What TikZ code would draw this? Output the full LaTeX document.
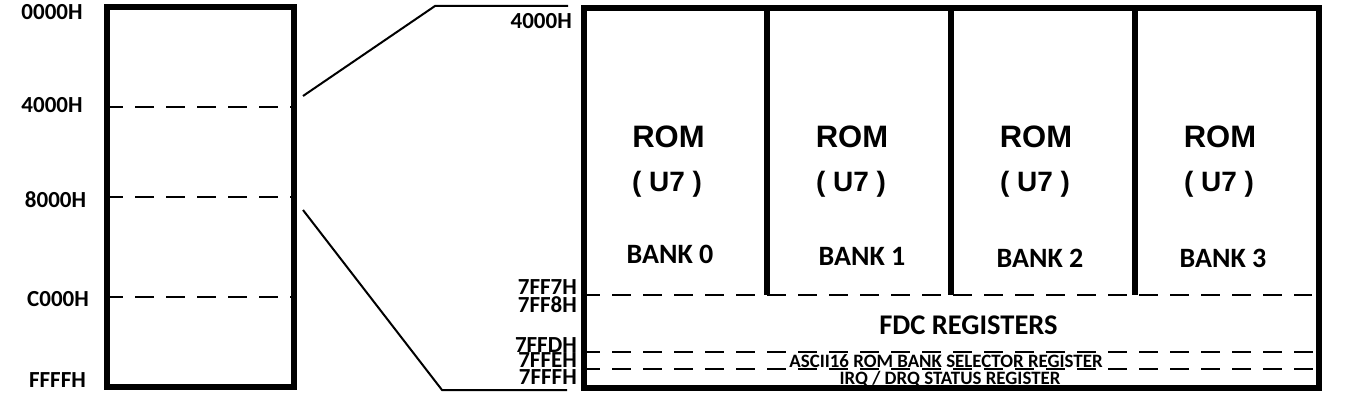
\documentclass[tikz,border=0pt]{standalone}
\usepackage{fontspec}
\setmainfont{Carlito}
\newfontfamily\romfont{Liberation Sans}
\usetikzlibrary{positioning,calc}

\begin{document}
\begin{tikzpicture}[
  x=1pt,y=-1pt,
  frame/.style={draw,line width=5.5pt,inner sep=0pt},
  divider/.style={line width=5.5pt},
  split/.style={dash pattern=on 19pt off 12pt,line width=2pt},
  zoomline/.style={line width=2pt},
  addr/.style={anchor=base,inner sep=0pt,font=\fontsize{23}{23}\selectfont\bfseries},
  raddr/.style={addr,anchor=base east},
  romtext/.style={anchor=base,inner sep=0pt,font=\fontsize{31}{31}\romfont\bfseries},
  chiptext/.style={anchor=base,inner sep=0pt,font=\fontsize{28}{28}\romfont\bfseries},
  banktext/.style={anchor=base,inner sep=0pt,font=\fontsize{28}{28}\selectfont\bfseries},
  regtext/.style={anchor=base,inner sep=0pt,font=\fontsize{18.9}{18.9}\selectfont\bfseries}
]
\useasboundingbox (0,0) rectangle (1350,404);

% full 64K map
\node[frame,minimum width=187,minimum height=380] (map) at (200.5,197) {};
\node[addr] (m0000) at (52,20) {0000H};
\node[addr] (m4000) at (52,113) {4000H};
\node[addr] (m8000) at (55.5,207) {8000H};
\node[addr] (mc000) at (58,306) {C000H};
\node[addr] (mffff) at (57.5,387) {FFFFH};
\draw[split] (map.west |- 0,107) -- (map.east |- 0,107);
\draw[split] (map.west |- 0,197) -- (map.east |- 0,197);
\draw[split] (map.west |- 0,297) -- (map.east |- 0,297);

% page 1 detail
\node[frame,minimum width=735,minimum height=380] (rom) at (951.5,198) {};
\draw[divider] (767,0 |- rom.north) -- (767,295);
\draw[divider] (951,0 |- rom.north) -- (951,295);
\draw[divider] (1135,0 |- rom.north) -- (1135,295);
\draw[split] (rom.west |- 0,295) -- (1312,295);
\draw[split] (rom.west |- 0,352) -- (rom.east |- 0,352);
\draw[split] (rom.west |- 0,369) -- (rom.east |- 0,369);

% zoom lines
\coordinate (zt0) at (303,96);
\coordinate (zt1) at (435,6);
\coordinate (zt2) at (568,6);
\coordinate (zb0) at (303,210);
\coordinate (zb1) at (442,390);
\coordinate (zb2) at (567,390);
\draw[zoomline] (zt0) -- (zt1) -- (zt2);
\draw[zoomline] (zb0) -- (zb1) -- (zb2);

% addresses of the detail
\node[raddr] (d4000) at (572,29) {4000H};
\node[raddr] (d7ff7) at (577,294) {7FF7H};
\node[raddr] (d7ff8) at (577,312) {7FF8H};
\node[raddr] (d7ffd) at (577,352) {7FFDH};
\node[raddr] (d7ffe) at (577,367) {7FFEH};
\node[raddr] (d7fff) at (577,384) {7FFFH};

% banks
\node[romtext] (rom0) at (668.5,147) {ROM};
\node[chiptext] (chip0) at (667,191) {( U7 )};
\node[banktext] (bank0) at (670,263) {BANK 0};
\node[romtext] (rom1) at (852,147) {ROM};
\node[chiptext] (chip1) at (851,191) {( U7 )};
\node[banktext] (bank1) at (862,265) {BANK 1};
\node[romtext] (rom2) at (1036,147) {ROM};
\node[chiptext] (chip2) at (1035,191) {( U7 )};
\node[banktext] (bank2) at (1040,267) {BANK 2};
\node[romtext] (rom3) at (1220,147) {ROM};
\node[chiptext] (chip3) at (1219,191) {( U7 )};
\node[banktext] (bank3) at (1223,267) {BANK 3};

% registers
\node[banktext,font=\fontsize{28.5}{28.5}\selectfont\bfseries] (fdc) at (968.5,334) {FDC REGISTERS};
\node[regtext] (sel) at (946,367) {ASCII16 ROM BANK SELECTOR REGISTER};
\node[regtext] (irq) at (950,384) {IRQ / DRQ STATUS REGISTER};
\end{tikzpicture}
\end{document}
